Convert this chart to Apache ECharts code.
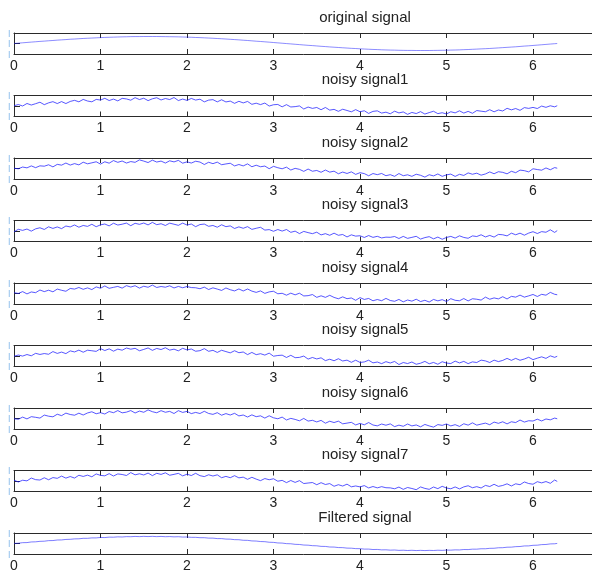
<!DOCTYPE html>
<html>
<head>
<meta charset="utf-8">
<script src="https://cdn.jsdelivr.net/npm/echarts@6/dist/echarts.min.js"></script>
<style>html,body{margin:0;padding:0;background:#fff;}#c{width:592px;height:575px;}</style>
</head>
<body>
<div id="c"></div>
<script>
const titles = ['original signal','noisy signal1','noisy signal2','noisy signal3','noisy signal4','noisy signal5','noisy signal6','noisy signal7','Filtered signal'];
const xTickLabels = ['0','1','2','3','4','5','6','7','8'];

const xs = [0,0.05,0.1,0.15,0.2,0.25,0.3,0.35,0.4,0.45,0.5,0.55,0.6,0.65,0.7,0.75,0.8,0.85,0.9,0.95,
1,1.05,1.1,1.15,1.2,1.25,1.3,1.35,1.4,1.45,1.5,1.55,1.6,1.65,1.7,1.75,1.8,1.85,1.9,1.95,
2,2.05,2.1,2.15,2.2,2.25,2.3,2.35,2.4,2.45,2.5,2.55,2.6,2.65,2.7,2.75,2.8,2.85,2.9,2.95,
3,3.05,3.1,3.15,3.2,3.25,3.3,3.35,3.4,3.45,3.5,3.55,3.6,3.65,3.7,3.75,3.8,3.85,3.9,3.95,
4,4.05,4.1,4.15,4.2,4.25,4.3,4.35,4.4,4.45,4.5,4.55,4.6,4.65,4.7,4.75,4.8,4.85,4.9,4.95,
5,5.05,5.1,5.15,5.2,5.25,5.3,5.35,5.4,5.45,5.5,5.55,5.6,5.65,5.7,5.75,5.8,5.85,5.9,5.95,
6,6.05,6.1,6.15,6.2,6.25,6.28];

const original = [0,0.05,0.10,0.15,0.20,0.25,0.30,0.34,0.39,0.43,0.48,0.52,0.56,0.61,0.64,0.68,0.72,0.75,0.78,0.81,
0.84,0.87,0.89,0.91,0.93,0.95,0.96,0.98,0.99,0.99,1.00,1.00,1.00,1.00,0.99,0.98,0.97,0.96,0.95,0.93,
0.91,0.89,0.86,0.84,0.81,0.78,0.75,0.71,0.68,0.64,0.60,0.56,0.52,0.47,0.43,0.38,0.33,0.29,0.24,0.19,
0.14,0.09,0.04,-0.01,-0.06,-0.11,-0.16,-0.21,-0.26,-0.30,-0.35,-0.40,-0.44,-0.49,-0.53,-0.57,-0.61,-0.65,-0.69,-0.72,
-0.76,-0.79,-0.82,-0.85,-0.87,-0.90,-0.92,-0.94,-0.95,-0.97,-0.98,-0.99,-0.99,-1.00,-1.00,-1.00,-1.00,-0.99,-0.98,-0.97,
-0.96,-0.94,-0.93,-0.91,-0.88,-0.86,-0.83,-0.80,-0.77,-0.74,-0.71,-0.67,-0.63,-0.59,-0.55,-0.51,-0.47,-0.42,-0.37,-0.33,
-0.28,-0.23,-0.18,-0.13,-0.08,-0.03,0];

const noisy1 = [0.04,0.21,0.00,0.36,0.14,0.33,0.54,0.19,0.45,0.62,
0.35,0.63,0.35,0.65,0.81,0.60,0.94,0.71,0.60,0.94,
0.85,1.10,0.78,0.99,0.73,1.09,1.01,0.83,1.19,0.92,
1.11,0.77,1.03,1.18,0.86,1.07,0.92,1.21,0.78,0.99,
0.80,1.08,0.85,0.97,0.59,0.84,0.91,0.59,0.89,0.58,
0.70,0.38,0.67,0.44,0.65,0.24,0.40,0.20,0.42,-0.01,
0.18,0.22,-0.12,0.19,-0.14,-0.09,0.01,-0.43,-0.15,-0.34,
-0.21,-0.53,-0.21,-0.59,-0.48,-0.76,-0.46,-0.64,-0.83,-0.52,
-0.82,-0.68,-1.06,-0.77,-0.69,-1.01,-0.88,-1.11,-0.74,-0.99,
-0.85,-1.19,-0.92,-1.08,-0.81,-1.15,-0.94,-0.75,-1.09,-0.96,
-1.14,-0.82,-0.98,-0.69,-1.01,-0.77,-1.04,-0.65,-0.74,-0.82,
-0.53,-0.83,-0.57,-0.71,-0.33,-0.55,-0.36,-0.62,-0.23,-0.34,
-0.20,-0.36,-0.01,-0.19,0.03,-0.12,0.04];

const noisy2 = [0.04,-0.04,0.21,0.09,0.37,0.12,0.38,0.33,0.53,0.23,
0.59,0.48,0.78,0.49,0.70,0.52,0.90,0.67,0.81,0.96,
0.63,0.96,0.76,1.13,0.88,1.07,0.78,0.99,0.88,1.23,
1.06,0.85,1.19,0.92,1.06,0.78,1.10,0.94,1.16,0.76,
0.95,0.78,1.04,0.92,0.57,0.89,0.69,0.91,0.54,0.65,
0.75,0.37,0.57,0.37,0.66,0.25,0.47,0.25,0.35,-0.03,
0.31,0.11,-0.04,0.19,-0.22,0.02,-0.12,-0.41,-0.08,-0.39,
-0.28,-0.54,-0.22,-0.52,-0.38,-0.75,-0.51,-0.71,-0.48,-0.84,
-0.60,-0.73,-1.04,-0.72,-0.88,-0.71,-1.03,-0.88,-1.12,-0.72,
-1.03,-0.90,-1.12,-0.82,-0.97,-1.23,-0.89,-1.06,-0.78,-1.12,
-0.91,-0.80,-1.13,-0.83,-0.99,-0.63,-0.82,-0.67,-0.95,-0.78,
-0.49,-0.75,-0.46,-0.55,-0.76,-0.40,-0.60,-0.23,-0.31,-0.48,
-0.04,-0.15,-0.24,0.08,-0.18,0.13,0.04];

const noisy3 = [-0.11,0.24,0.09,0.28,-0.02,0.31,0.46,0.22,0.60,0.37,
0.58,0.34,0.71,0.58,0.86,0.54,0.79,0.66,0.96,0.61,
0.88,1.00,0.73,1.11,0.85,0.97,1.13,0.76,1.10,0.95,
1.14,0.87,1.23,0.90,1.04,0.79,1.12,0.97,0.81,1.13,
0.85,1.00,0.62,0.92,0.99,0.67,0.79,0.54,0.89,0.62,
0.73,0.36,0.59,0.39,0.62,0.23,0.39,0.53,0.13,0.20,
-0.04,0.21,-0.01,0.21,-0.19,-0.02,-0.37,-0.06,-0.23,-0.38,
-0.17,-0.56,-0.38,-0.61,-0.31,-0.61,-0.50,-0.85,-0.55,-0.73,
-0.68,-0.92,-0.65,-0.91,-0.76,-0.99,-0.88,-0.90,-0.79,-1.07,
-0.77,-1.05,-0.91,-0.76,-1.15,-0.94,-0.81,-1.12,-0.87,-1.18,
-0.92,-0.77,-1.01,-0.69,-0.92,-1.04,-0.70,-0.79,-0.54,-0.85,
-0.63,-0.87,-0.49,-0.54,-0.70,-0.31,-0.54,-0.31,-0.60,-0.30,
-0.10,-0.36,-0.09,-0.18,0.17,-0.20,0.06];

const noisy4 = [0.11,0.01,0.27,-0.06,0.22,0.12,0.50,0.27,0.47,0.24,
0.63,0.46,0.32,0.72,0.63,0.86,0.60,0.80,0.56,0.94,
0.75,1.08,0.74,0.88,1.01,0.77,1.12,0.92,1.11,0.77,
1.04,0.89,1.20,0.86,1.00,0.90,1.10,0.79,1.01,0.82,
1.00,0.85,0.82,0.68,0.91,0.57,0.81,0.63,0.44,0.79,
0.54,0.37,0.65,0.36,0.64,0.34,0.16,0.37,0.02,0.23,
0.32,-0.04,0.03,-0.24,0.05,-0.19,0.04,-0.35,-0.31,-0.15,
-0.55,-0.33,-0.55,-0.26,-0.56,-0.75,-0.48,-0.74,-0.64,-0.97,
-0.59,-0.85,-0.71,-1.04,-0.86,-1.03,-0.70,-1.00,-1.11,-0.85,
-1.19,-0.93,-1.09,-0.82,-1.15,-0.97,-1.22,-0.85,-1.05,-0.88,
-1.14,-0.74,-0.97,-1.04,-0.72,-1.06,-0.75,-0.82,-0.94,-0.52,
-0.82,-0.63,-0.77,-0.46,-0.78,-0.41,-0.52,-0.23,-0.52,-0.34,
-0.14,-0.43,-0.12,-0.24,0.16,-0.11,-0.18];

const noisy5 = [-0.04,0.14,-0.01,0.21,0.03,0.38,0.22,0.35,0.25,0.63,
0.37,0.56,0.34,0.73,0.58,0.84,0.54,0.83,0.75,0.66,
1.05,0.78,1.02,0.69,0.98,0.83,1.14,0.97,1.10,0.75,
0.94,1.15,0.81,1.08,0.92,1.18,0.84,0.98,0.74,1.10,
0.87,1.00,0.68,0.76,1.05,0.67,0.81,0.51,0.82,0.63,
0.45,0.75,0.47,0.57,0.20,0.51,0.19,0.33,0.13,0.41,
-0.03,0.07,0.12,-0.21,0.10,-0.24,-0.20,-0.01,-0.44,-0.21,
-0.42,-0.26,-0.66,-0.46,-0.68,-0.39,-0.71,-0.59,-0.90,-0.60,
-0.92,-0.85,-0.60,-0.98,-0.86,-1.09,-0.81,-1.00,-0.78,-1.22,
-0.93,-1.08,-0.86,-1.18,-1.03,-0.77,-1.11,-0.92,-1.18,-0.82,
-1.01,-1.08,-0.73,-0.99,-0.77,-1.09,-0.84,-0.93,-0.59,-0.70,
-0.93,-0.59,-0.80,-0.63,-0.34,-0.62,-0.34,-0.61,-0.43,-0.18,
-0.52,-0.31,-0.12,-0.34,0.02,-0.19,-0.04];

const noisy6 = [-0.04,-0.11,0.20,-0.06,0.26,0.17,0.06,0.49,0.33,0.24,
0.61,0.41,0.77,0.57,0.47,0.76,0.50,0.79,0.96,0.68,
0.83,0.64,1.00,0.83,1.13,0.81,0.91,1.13,0.79,1.06,
0.89,1.23,0.97,0.82,1.12,0.89,1.02,0.71,1.12,0.87,
1.02,0.70,0.87,0.71,1.03,0.72,0.59,0.83,0.47,0.70,
0.50,0.74,0.37,0.50,0.21,0.52,0.26,0.38,0.06,0.39,
0.10,-0.04,0.20,-0.21,0.02,-0.13,-0.33,0.01,-0.37,-0.26,
-0.49,-0.27,-0.67,-0.39,-0.58,-0.38,-0.76,-0.66,-0.55,-0.92,
-0.70,-0.90,-0.58,-0.93,-1.05,-0.79,-0.96,-0.77,-1.16,-0.95,
-1.11,-0.79,-1.06,-0.92,-1.19,-0.85,-1.06,-1.23,-0.87,-0.98,
-0.78,-1.06,-0.88,-1.13,-0.75,-0.95,-0.62,-0.95,-0.80,-0.66,
-0.89,-0.51,-0.69,-0.47,-0.77,-0.47,-0.58,-0.22,-0.51,-0.32,
-0.36,-0.10,-0.35,-0.07,-0.19,0.06,-0.04];

const noisy7 = [0.11,-0.14,0.11,0.02,0.42,0.19,0.14,0.46,0.18,0.49,
0.38,0.70,0.41,0.64,0.42,0.82,0.65,0.84,0.60,1.01,
0.80,0.74,1.05,0.71,1.01,0.93,0.79,1.20,0.88,1.03,
0.86,1.13,0.77,1.10,0.94,1.17,0.82,0.95,1.09,0.73,
0.97,0.78,1.10,0.76,0.63,0.89,0.71,0.88,0.47,0.66,
0.47,0.76,0.45,0.55,0.24,0.53,0.27,0.05,0.35,0.18,
0.32,-0.03,0.09,-0.23,0.07,-0.20,0.05,-0.36,-0.29,-0.22,
-0.53,-0.24,-0.50,-0.37,-0.75,-0.53,-0.72,-0.45,-0.83,-0.71,
-0.84,-0.66,-0.99,-0.79,-0.98,-0.81,-0.96,-0.98,-1.11,-0.87,
-1.19,-0.93,-1.07,-1.24,-0.85,-1.06,-1.19,-0.86,-1.09,-0.76,
-1.00,-1.11,-0.85,-1.13,-0.84,-0.68,-0.96,-0.81,-1.00,-0.63,
-0.79,-0.47,-0.77,-0.64,-0.40,-0.71,-0.40,-0.53,-0.14,-0.36,
-0.46,-0.10,-0.27,-0.08,-0.33,0.14,-0.06];

const filtered = [0.01,0.04,0.12,0.13,0.22,0.24,0.31,0.33,0.41,0.42,
0.50,0.51,0.58,0.60,0.66,0.67,0.74,0.74,0.80,0.80,
0.86,0.85,0.91,0.90,0.95,0.93,0.98,0.97,1.01,0.98,
1.02,0.99,1.02,0.98,1.01,0.97,0.99,0.95,0.97,0.92,
0.93,0.88,0.88,0.83,0.83,0.77,0.77,0.70,0.70,0.63,
0.62,0.55,0.54,0.46,0.45,0.37,0.35,0.28,0.26,0.18,
0.16,0.08,0.06,-0.02,-0.04,-0.12,-0.14,-0.22,-0.24,-0.31,
-0.33,-0.41,-0.42,-0.50,-0.51,-0.58,-0.59,-0.66,-0.67,-0.73,
-0.74,-0.80,-0.80,-0.86,-0.85,-0.91,-0.90,-0.95,-0.93,-0.98,
-0.96,-1.00,-0.97,-1.01,-0.98,-1.01,-0.98,-1.00,-0.96,-0.98,
-0.94,-0.95,-0.91,-0.92,-0.86,-0.87,-0.81,-0.81,-0.75,-0.75,
-0.69,-0.68,-0.61,-0.60,-0.53,-0.52,-0.45,-0.43,-0.35,-0.34,
-0.26,-0.24,-0.16,-0.14,-0.06,-0.04,0.01];

const signals = [original, noisy1, noisy2, noisy3, noisy4, noisy5, noisy6, noisy7, filtered];

const chart = echarts.init(document.getElementById('c'), null, {renderer: 'canvas'});
const FONT = '"Liberation Sans", Arial, Helvetica, sans-serif';
const STEP = 62.5, TOP0 = 33, H = 21, LEFT = 14, UNIT = 86.5;
const XMIN = 0, XMAX = 8;
const axisColor = '#2a2a2a';

const grid = [], xAxis = [], yAxis = [], series = [], title = [];
signals.forEach((sig, i) => {
  const top = TOP0 + STEP * i;
  grid.push({left: LEFT, top: top, width: UNIT * (XMAX - XMIN), height: H,
    containLabel: false, outerBoundsMode: 'none'});
  xAxis.push({
    type: 'value', gridIndex: i, min: XMIN, max: XMAX, interval: 1, position: 'bottom',
    axisLine: {show: true, onZero: false, lineStyle: {color: axisColor, width: 1}},
    axisTick: {show: true, inside: true, length: 5, lineStyle: {color: axisColor, width: 1}},
    axisLabel: {show: true, margin: 5, fontSize: 14, color: '#222', fontFamily: FONT,
      hideOverlap: false, formatter: v => xTickLabels[Math.round(v)] || ''},
    splitLine: {show: false}
  });
  xAxis.push({
    type: 'value', gridIndex: i, min: XMIN, max: XMAX, interval: 1, position: 'top',
    axisLine: {show: true, onZero: false, lineStyle: {color: axisColor, width: 1}},
    axisTick: {show: true, inside: true, length: 5, lineStyle: {color: axisColor, width: 1}},
    axisLabel: {show: false}, splitLine: {show: false}
  });
  yAxis.push({
    type: 'value', gridIndex: i, min: -1.5, max: 1.5, interval: 1.5,
    axisLine: {show: true, onZero: false, lineStyle: {color: axisColor, width: 1}},
    axisTick: {show: true, inside: true, length: 6, lineStyle: {color: axisColor}},
    axisLabel: {show: true, margin: 4, fontSize: 7, color: '#4f9ae0', fontFamily: FONT, formatter: () => '|'},
    splitLine: {show: false}
  });
  series.push({
    type: 'line', xAxisIndex: 2 * i, yAxisIndex: i,
    data: xs.map((x, j) => [x, sig[j]]),
    showSymbol: false, symbol: 'none', smooth: false, animation: false,
    lineStyle: {color: '#1515ff', width: i === 0 ? 0.7 : 0.8, opacity: i === 0 || i === 8 ? 0.7 : 0.9},
    clip: true
  });
  title.push({
    text: titles[i], left: 360, textAlign: 'center', top: top - 28,
    textStyle: {fontSize: 15, fontWeight: 'normal', color: '#222', fontFamily: FONT}
  });
});

chart.setOption({
  backgroundColor: '#fff',
  animation: false,
  title, grid, xAxis, yAxis, series
});
</script>
</body>
</html>
